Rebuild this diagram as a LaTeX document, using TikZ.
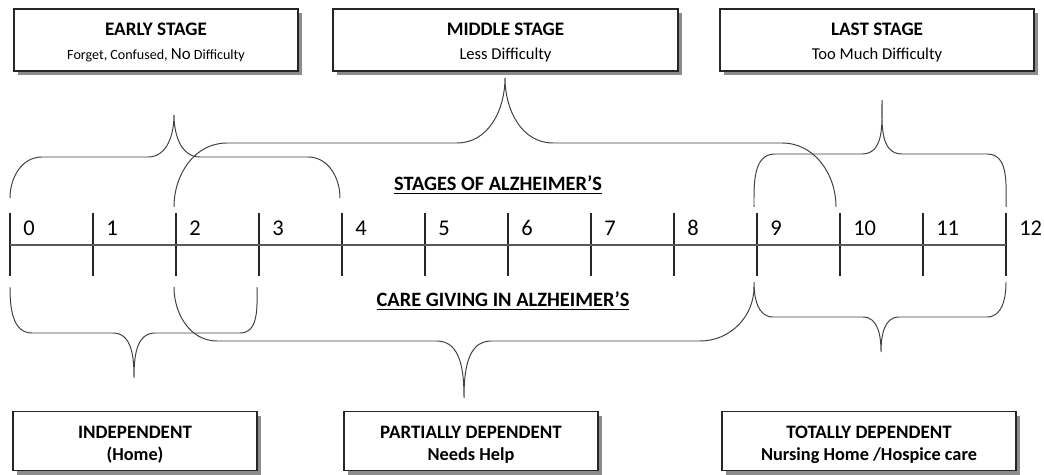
\documentclass[tikz,border=0pt]{standalone}
\usepackage{fontspec}
\setmainfont{Carlito}
\usepackage{tikz}
\usetikzlibrary{shadows}
\tikzstyle{stagebox} = [rectangle, draw=black!85, fill=white, line width=0.8pt, minimum height=1.55cm, text centered, align=center, font=\fontsize{11.8}{16.5}\selectfont, drop shadow={shadow xshift=0.11cm, shadow yshift=-0.11cm, fill=black!45, opacity=1}]
\tikzstyle{carebox} = [stagebox, minimum height=1.475cm, font=\bfseries\fontsize{13}{16}\selectfont]
\tikzstyle{heading} = [font=\bfseries\fontsize{14.5}{17}\selectfont]
\tikzstyle{numlabel} = [anchor=west, inner sep=0pt, font=\fontsize{16}{19}\selectfont]
\tikzstyle{axis} = [draw=black!65, line width=1.3pt]
\tikzstyle{tick} = [draw=black!85, line width=0.8pt]
\tikzstyle{brace} = [draw=black!75, line width=0.7pt]
\newcommand{\boxhead}[1]{{\bfseries\fontsize{13.6}{16.5}\selectfont\rule{0pt}{12.5pt}#1}}
\newcommand{\carehead}[1]{{\fontsize{13.5}{16}\selectfont\rule{0pt}{14.3pt}#1}}

\begin{document}
\begin{tikzpicture}[x=0.025cm, y=0.025cm]
            \useasboundingbox (0,0) rectangle (1044,474);

            % stage boxes (top)
            \node (early) [stagebox, minimum width=7.1cm] at (156,434) {\boxhead{EARLY STAGE}\\{\fontsize{10}{16.5}\selectfont Forget, Confused, {\fontsize{12}{16.5}\selectfont No} Difficulty}};
            \node (middle) [stagebox, minimum width=8.625cm] at (505.5,434) {\boxhead{MIDDLE STAGE}\\Less Difficulty};
            \node (last) [stagebox, minimum width=7.85cm] at (877,434) {\boxhead{LAST STAGE}\\Too Much Difficulty};

            % care giving boxes (bottom)
            \node (independent) [carebox, minimum width=6.1cm] at (135,33) {\carehead{INDEPENDENT}\\(Home)};
            \node (partial) [carebox, minimum width=6.35cm] at (471,33) {\carehead{PARTIALLY DEPENDENT}\\Needs Help};
            \node (total) [carebox, minimum width=7.35cm] at (869,33) {\carehead{TOTALLY DEPENDENT}\\Nursing Home /Hospice care};

            % time line
            \foreach \i in {0,...,12} {
                \coordinate (t\i) at ({10+83*\i},229);
                \draw [tick] ({10+83*\i},198) -- ({10+83*\i},261);
                \node (n\i) [numlabel] at ({23+83*\i},246) {\i};
            }
            \draw [axis] (t0) -- (t12);

            \node (stages-title) [heading] at (498,289) {\underline{STAGES OF ALZHEIMER'S}};
            \node (care-title) [heading] at (503,173) {\underline{CARE GIVING IN ALZHEIMER'S}};

            % braces above the line
            \draw [brace] (10,276) to[out=90,in=180] (42,317) -- (148,317) to[out=0,in=-90] (174,359)
                to[out=-90,in=180] (200,317) -- (308,317) to[out=0,in=90] (340,276);
            \draw [brace] (174,267) to[out=90,in=180] (227,331) -- (457,331) to[out=0,in=-90] (505,396)
                to[out=-90,in=180] (553,331) -- (782,331) to[out=0,in=90] (836,267);
            \draw [brace] (754,267) to[out=90,in=180] (775,320) -- (862,320) to[out=0,in=-90] (882,374)
                to[out=-90,in=180] (902,320) -- (987,320) to[out=0,in=90] (1006,267);

            % braces below the line
            \draw [brace] (10,187) to[out=-90,in=180] (32,141) -- (113,141) to[out=0,in=90] (134,96)
                to[out=90,in=180] (155,141) -- (240,141) to[out=0,in=-90] (257,187);
            \draw [brace] (174,187) to[out=-90,in=180] (217,133) -- (437,133) to[out=0,in=90] (464,76)
                to[out=90,in=180] (491,133) -- (700,133) to[out=0,in=-90] (754,187);
            \draw [brace] (754,192) to[out=-90,in=180] (773,157) -- (863,157) to[out=0,in=90] (881,122)
                to[out=90,in=180] (899,157) -- (987,157) to[out=0,in=-90] (1006,192);
        \end{tikzpicture}
\end{document}
